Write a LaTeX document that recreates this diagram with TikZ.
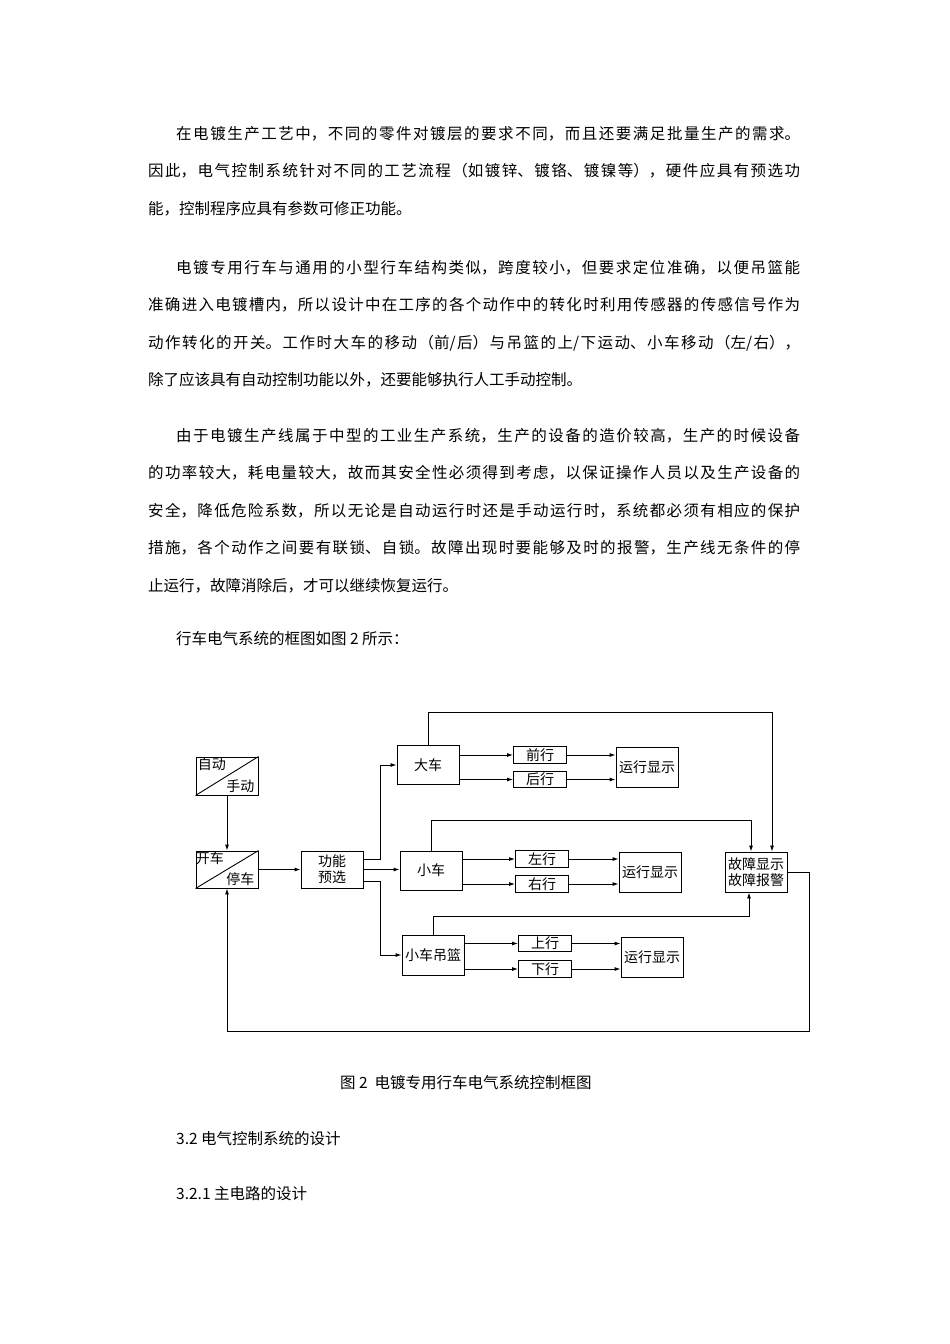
\documentclass[tikz,border=0pt]{standalone}
\usepackage{fontspec}
\setmainfont{Noto Sans CJK SC}
\usetikzlibrary{arrows.meta}
\XeTeXlinebreaklocale "zh"
\XeTeXlinebreakskip=0pt plus 4pt
\tikzset{
  bx/.style={draw, line width=0.9pt, minimum width=62pt, minimum height=38pt, inner sep=0pt, font=\fontsize{14}{16}\selectfont, align=center},
  sm/.style={draw, line width=0.9pt, minimum width=53pt, minimum height=16.5pt, inner sep=0pt, font=\fontsize{14}{16}\selectfont},
  tx/.style={inner sep=0pt, font=\fontsize{14}{16}\selectfont},
  ln/.style={line width=0.9pt},
  arr/.style={line width=0.9pt, -{Latex[length=6pt,width=4pt]}},
  para/.style={anchor=base west, inner sep=0pt, text width=652pt, align=justify, font=\fontsize{15.5}{37.5}\selectfont},
  lbl/.style={anchor=base west, inner sep=0pt, font=\fontsize{15.5}{37.5}\selectfont}
}
\begin{document}
\begin{tikzpicture}[x=1pt,y=-1pt]
\useasboundingbox[fill=white] (0,0) rectangle (950,1344);
% text
\node[para] (p1) at (148,139) {\hspace*{28pt}在电镀生产工艺中，不同的零件对镀层的要求不同，而且还要满足批量生产的需求。\linebreak 因此，电气控制系统针对不同的工艺流程（如镀锌、镀铬、镀镍等），硬件应具有预选功\linebreak 能，控制程序应具有参数可修正功能。};
\node[para] (p2) at (148,273) {\hspace*{28pt}电镀专用行车与通用的小型行车结构类似，跨度较小，但要求定位准确，以便吊篮能\linebreak 准确进入电镀槽内，所以设计中在工序的各个动作中的转化时利用传感器的传感信号作为\linebreak 动作转化的开关。工作时大车的移动（前/后）与吊篮的上/下运动、小车移动（左/右），\linebreak 除了应该具有自动控制功能以外，还要能够执行人工手动控制。};
\node[para] (p3) at (148,441) {\hspace*{28pt}由于电镀生产线属于中型的工业生产系统，生产的设备的造价较高，生产的时候设备\linebreak 的功率较大，耗电量较大，故而其安全性必须得到考虑，以保证操作人员以及生产设备的\linebreak 安全，降低危险系数，所以无论是自动运行时还是手动运行时，系统都必须有相应的保护\linebreak 措施，各个动作之间要有联锁、自锁。故障出现时要能够及时的报警，生产线无条件的停\linebreak 止运行，故障消除后，才可以继续恢复运行。};
\node[lbl] (p4) at (176,644) {行车电气系统的框图如图 2 所示：};
\node[lbl] (cap) at (340,1088) {图 2\ \ 电镀专用行车电气系统控制框图};
\node[lbl] (s1) at (176,1144) {3.2 电气控制系统的设计};
\node[lbl] (s2) at (176,1199) {3.2.1 主电路的设计};
% diagram boxes
\node[bx] (zd) at (227,776) {};
\draw[ln] (zd.south west) -- (zd.north east);
\node[tx, anchor=north west] (zdt1) at ([xshift=2pt,yshift=-1pt]zd.north west) {自动};
\node[tx, anchor=south east] (zdt2) at ([xshift=-4pt,yshift=3pt]zd.south east) {手动};
\node[bx, minimum height=37pt] (kc) at (227,869.5) {};
\draw[ln] (kc.south west) -- (kc.north east);
\node[tx, anchor=north west] (kct1) at ([xshift=0pt,yshift=-1pt]kc.north west) {开车};
\node[tx, anchor=south east] (kct2) at ([xshift=-4pt,yshift=3pt]kc.south east) {停车};
\node[bx, minimum height=37pt] (gn) at (332,869.5) {功能\\预选};
\node[bx, minimum height=39pt] (dc) at (428,765) {大车};
\node[sm] (qx) at (540,755) {前行};
\node[sm] (hx) at (540,779.5) {后行};
\node[bx, minimum height=40pt] (y1) at (647,767) {运行显示};
\node[bx, minimum height=39pt] (xc) at (431,870.5) {小车};
\node[sm] (zx) at (542,859) {左行};
\node[sm] (yx) at (542,884) {右行};
\node[bx, minimum height=40pt] (y2) at (650,872) {运行显示};
\node[bx, minimum height=40pt] (gz) at (756,872) {故障显示\\故障报警};
\node[bx, minimum height=40pt] (dl) at (433,955) {小车吊篮};
\node[sm] (sx) at (545,943.5) {上行};
\node[sm] (xx) at (545,969) {下行};
\node[bx, minimum height=40pt] (y3) at (652,957) {运行显示};
% connectors
\draw[arr] (zd.south) -- (kc.north);
\draw[arr] (kc.east) -- (gn.west);
\draw[arr] (gn.east |- 0,859) -- (380,859) |- (dc.west);
\draw[arr] (gn.east) -- (xc.west |- gn.east);
\draw[arr] (gn.east |- 0,881) -- (380,881) |- (dl.west);
\draw[arr] (dc.east |- qx) -- (qx.west);
\draw[arr] (dc.east |- hx) -- (hx.west);
\draw[arr] (qx.east) -- (y1.west |- qx);
\draw[arr] (hx.east) -- (y1.west |- hx);
\draw[arr] (xc.east |- zx) -- (zx.west);
\draw[arr] (xc.east |- yx) -- (yx.west);
\draw[arr] (zx.east) -- (y2.west |- zx);
\draw[arr] (yx.east) -- (y2.west |- yx);
\draw[arr] (dl.east |- sx) -- (sx.west);
\draw[arr] (dl.east |- xx) -- (xx.west);
\draw[arr] (sx.east) -- (y3.west |- sx);
\draw[arr] (xx.east) -- (y3.west |- xx);
\draw[arr] (dc.north) -- (dc.north |- 0,712) -| (gz.north -| 772,0);
\draw[arr] (xc.north) -- (xc.north |- 0,820) -| (gz.north -| 751,0);
\draw[arr] (dl.north) -- (dl.north |- 0,916) -| (gz.south -| 749,0);
\draw[arr] (gz.east) -- (809,872) -- (809,1031) -| (kc.south);
\end{tikzpicture}
\end{document}
